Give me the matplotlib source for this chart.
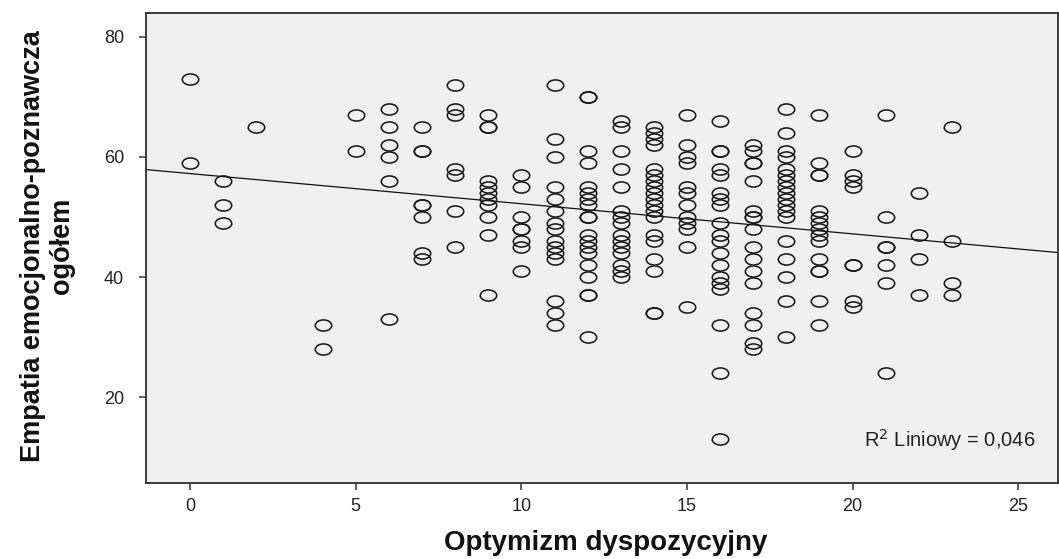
import numpy as np
import matplotlib
matplotlib.use("Agg")
import matplotlib.pyplot as plt
from matplotlib.path import Path
from matplotlib.transforms import Affine2D

# Optimism score (x) and the empathy totals observed at each score
optimism_levels = [0, 1, 2, 4, 5, 6, 7, 8, 9, 10, 11, 12, 13, 14, 15, 16, 17, 18, 19, 20, 21, 22, 23]
empathy_by_level = [
    [73, 59],
    [56, 52, 49],
    [65],
    [32, 28],
    [67, 61],
    [68, 65, 62, 60, 56, 33],
    [65, 61, 61, 52, 52, 50, 44, 43],
    [72, 68, 67, 58, 57, 51, 45],
    [67, 65, 65, 56, 55, 54, 53, 52, 50, 47, 37],
    [57, 55, 50, 48, 48, 46, 45, 41],
    [72, 63, 60, 55, 53, 51, 49, 48, 46, 45, 44, 43, 36, 34, 32],
    [70, 70, 61, 59, 55, 54, 53, 52, 50, 50, 47, 46, 45, 44, 42, 40, 37, 37, 30],
    [66, 65, 61, 58, 55, 51, 50, 49, 47, 46, 45, 44, 42, 41, 40],
    [65, 64, 63, 62, 58, 57, 56, 55, 54, 53, 52, 51, 50, 47, 46, 43, 41, 34, 34],
    [67, 62, 60, 59, 55, 54, 52, 50, 49, 48, 45, 35],
    [66, 61, 61, 58, 57, 54, 53, 52, 49, 47, 46, 44, 42, 40, 39, 38, 32, 24, 13],
    [62, 61, 59, 59, 56, 51, 50, 50, 48, 45, 43, 41, 39, 34, 32, 29, 28],
    [68, 64, 61, 60, 58, 57, 56, 55, 54, 53, 52, 51, 50, 46, 43, 40, 36, 30],
    [67, 59, 57, 57, 51, 50, 49, 48, 47, 46, 43, 41, 41, 36, 32],
    [61, 57, 56, 55, 42, 42, 36, 35],
    [67, 50, 45, 45, 42, 39, 24],
    [54, 47, 43, 37],
    [65, 46, 39, 37],
]
x_ticks = [0, 5, 10, 15, 20, 25]
y_ticks = [20, 40, 60, 80]
x_title = "Optymizm dyspozycyjny"
y_title = "Empatia emocjonalno-poznawcza\nogółem"
fit_label = "R$^2$ Liniowy = 0,046"

x = np.concatenate([[lv] * len(v) for lv, v in zip(optimism_levels, empathy_by_level)]).astype(float)
y = np.concatenate(empathy_by_level).astype(float)

fig = plt.figure(figsize=(10.59, 5.59), dpi=100)
ax = fig.add_axes([0.138, 0.136, 0.861, 0.841])
ax.set_facecolor("#f0f0f0")

# slightly flattened open circle marker
ellipse = Path.unit_circle().transformed(Affine2D().scale(1.0, 0.68))
ax.plot(x, y, linestyle="none", marker=ellipse, markersize=11.8,
        markerfacecolor="none", markeredgecolor="#1a1a1a", markeredgewidth=1.15)

xlim = (-1.33, 26.2)
ylim = (5.7, 84.0)
slope, intercept = np.polyfit(x, y, 1)
xs = np.array(xlim)
ax.plot(xs, intercept + slope * xs, color="#111111", linewidth=0.9)

ax.set_xlim(*xlim)
ax.set_ylim(*ylim)
ax.set_xticks(x_ticks)
ax.set_yticks(y_ticks)

sans = ["Liberation Sans", "DejaVu Sans"]
for lab in ax.get_xticklabels() + ax.get_yticklabels():
    lab.set_family(sans)
    lab.set_fontsize(13)
    lab.set_color("#222222")
ax.tick_params(direction="out", length=5, width=1.1, color="#333333")
ax.tick_params(axis="x", pad=6)
ax.tick_params(axis="y", pad=11)

for s in ax.spines.values():
    s.set_color("#3c3c3c")
    s.set_linewidth(1.4)

ax.text(0.975, 0.077, fit_label, transform=ax.transAxes, ha="right", va="baseline",
        fontsize=14.5, family=sans, color="#222222")

fig.text(0.572, 0.016, x_title, ha="center", va="baseline",
         fontsize=20, fontweight="bold", family=sans, color="#111111")
fig.text(0.045, 0.56, y_title, ha="center", va="center", rotation=90,
         fontsize=19.5, fontweight="bold", family=sans, color="#111111",
         linespacing=1.15, multialignment="center")

fig.savefig("out.png", dpi=100)
